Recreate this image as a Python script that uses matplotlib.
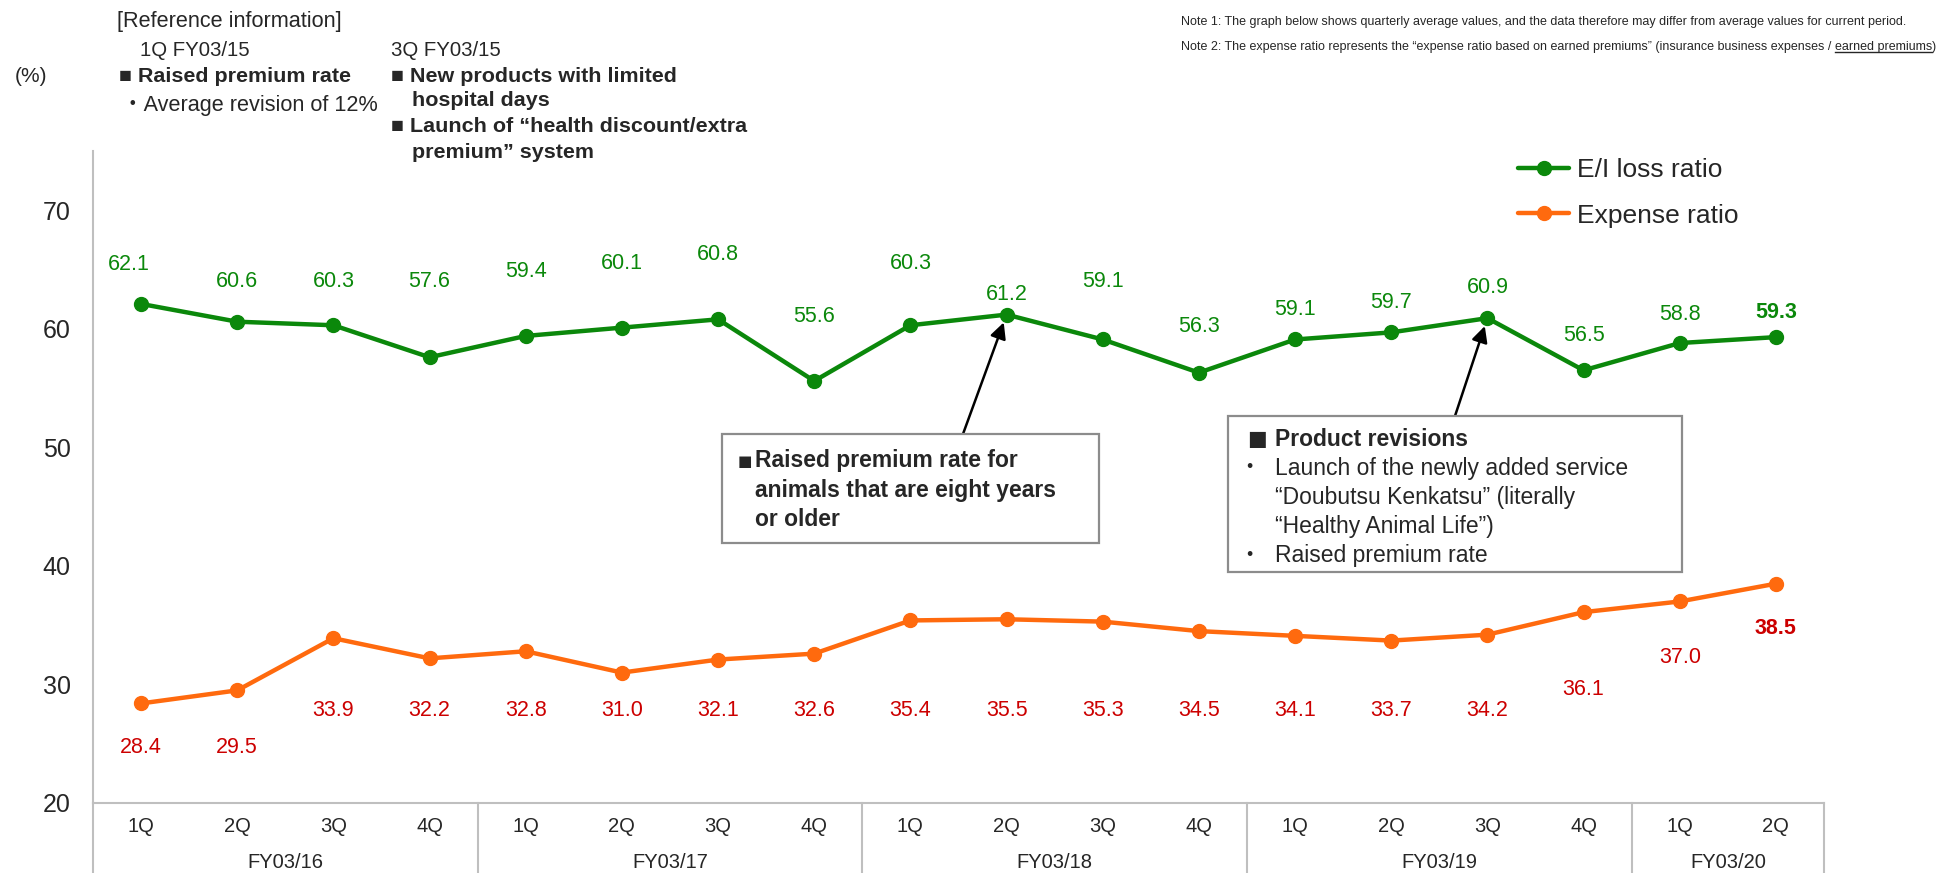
import matplotlib
matplotlib.use("Agg")
import matplotlib.pyplot as plt
from matplotlib import font_manager
from matplotlib.patches import Rectangle
from matplotlib.lines import Line2D

# ---- data ----
quarters = ["1Q", "2Q", "3Q", "4Q"] * 4 + ["1Q", "2Q"]
fiscal_years = ["FY03/16", "FY03/17", "FY03/18", "FY03/19", "FY03/20"]
year_lengths = [4, 4, 4, 4, 2]
ei_loss_ratio = [62.1, 60.6, 60.3, 57.6, 59.4, 60.1, 60.8, 55.6, 60.3,
                 61.2, 59.1, 56.3, 59.1, 59.7, 60.9, 56.5, 58.8, 59.3]
expense_ratio = [28.4, 29.5, 33.9, 32.2, 32.8, 31.0, 32.1, 32.6, 35.4,
                 35.5, 35.3, 34.5, 34.1, 33.7, 34.2, 36.1, 37.0, 38.5]
y_ticks = [20, 30, 40, 50, 60, 70]

# where the value labels sit on the slide (data units)
ei_label_y = [65.4, 64.0, 64.0, 64.0, 64.8, 65.5, 66.3, 61.0, 65.5,
              62.9, 64.0, 60.2, 61.6, 62.2, 63.5, 59.4, 61.2, 61.35]
exp_label_y = [24.7, 24.7, 27.8, 27.8, 27.8, 27.8, 27.8, 27.8, 27.8,
               27.8, 27.8, 27.8, 27.8, 27.8, 27.8, 29.6, 32.3, 34.7]

GREEN = "#0B880B"
ORANGE = "#FF6A0E"
RED = "#CC0000"
DARK = "#262626"
GRID = "#BFBFBF"

installed = {f.name for f in font_manager.fontManager.ttflist}
NARROW = "Liberation Sans Narrow" if "Liberation Sans Narrow" in installed else "Liberation Sans"
plt.rcParams["font.family"] = ["Liberation Sans", "DejaVu Sans"]

W, H = 1939, 873
fig = plt.figure(figsize=(W / 100, H / 100), dpi=100)
renderer = fig.canvas.get_renderer()


def fx(x):
    return x / W


def fy(y):
    return 1 - y / H


def width(t):
    return t.get_window_extent(renderer=renderer).width


def fit(t, target):
    t.set_fontsize(t.get_fontsize() * target / width(t))
    return t.get_fontsize()


ax = fig.add_axes([fx(93), 70 / H, (1824 - 93) / W, 652 / H])
x = list(range(len(quarters)))

ax.plot(x, ei_loss_ratio, color=GREEN, lw=3.2, marker="o", ms=10,
        solid_capstyle="round", label="E/I loss ratio", zorder=3)
ax.plot(x, expense_ratio, color=ORANGE, lw=3.2, marker="o", ms=10,
        solid_capstyle="round", label="Expense ratio", zorder=3)

ax.set_xlim(-0.5, len(quarters) - 0.5)
ax.set_ylim(20, 75)
ax.set_yticks(y_ticks)
ax.set_xticks([])
ax.tick_params(axis="y", length=0, pad=16, labelsize=18, labelcolor=DARK)
for s in ["top", "right"]:
    ax.spines[s].set_visible(False)
for s in ["left", "bottom"]:
    ax.spines[s].set_color(GRID)
    ax.spines[s].set_linewidth(1.5)

# value labels
last = len(x) - 1
for i, v in enumerate(ei_loss_ratio):
    dx = -0.13 if i == 0 else 0
    ax.text(i + dx, ei_label_y[i], f"{v:.1f}", ha="center", va="center",
            color=GREEN, fontsize=15.5, fontweight="bold" if i == last else "normal")
for i, v in enumerate(expense_ratio):
    ax.text(i, exp_label_y[i], f"{v:.1f}", ha="center", va="center",
            color=RED, fontsize=15.5, fontweight="bold" if i == last else "normal")

# category axis (quarters / fiscal years)
tr = ax.get_xaxis_transform()
for i, q in enumerate(quarters):
    ax.text(i, -24 / 652, q, transform=tr, ha="center", va="center",
            fontsize=14.5, color=DARK)
start = 0
bounds = [-0.5]
for fy_name, n in zip(fiscal_years, year_lengths):
    ax.text(start + (n - 1) / 2, -60 / 652, fy_name, transform=tr, ha="center",
            va="center", fontsize=14.5, color=DARK)
    start += n
    bounds.append(start - 0.5)
for b in bounds:
    ax.add_line(Line2D([b, b], [0, -72 / 652], transform=tr, color=GRID,
                       lw=1.5, clip_on=False))

# legend
leg = ax.legend(loc="upper left", bbox_to_anchor=(fx(1518), fy(158)),
                bbox_transform=fig.transFigure, frameon=False, fontsize=19,
                handlelength=1.95, handletextpad=0.3, labelspacing=0.82,
                borderaxespad=0, borderpad=0)
for t in leg.get_texts():
    t.set_color(DARK)

# arrows to the revision points
arrow = dict(arrowstyle="-|>", color="black", lw=1.8, mutation_scale=24,
             shrinkA=0, shrinkB=6)
ax.annotate("", xy=(9, ei_loss_ratio[9]), xytext=(fx(963), fy(434)),
            textcoords="figure fraction", arrowprops=arrow, zorder=4)
ax.annotate("", xy=(14, ei_loss_ratio[14]), xytext=(fx(1455), fy(416)),
            textcoords="figure fraction", arrowprops=arrow, zorder=4)

# call-out boxes
for (x0, y0, x1, y1) in [(722, 434, 1099, 543), (1228, 416, 1682, 572)]:
    fig.add_artist(Rectangle((fx(x0), fy(y1)), (x1 - x0) / W, (y1 - y0) / H,
                             transform=fig.transFigure, facecolor="white",
                             edgecolor="#8C8C8C", lw=1.6, zorder=2))

box1 = ["Raised premium rate for", "animals that are eight years", "or older"]
fig.text(fx(738), fy(461), "■", fontsize=11, va="center", color=DARK,
         family=["DejaVu Sans"], zorder=3)
for k, line in enumerate(box1):
    fig.text(fx(755), fy(461 + 29.5 * k), line, fontsize=16.5, fontweight="bold",
             va="center", color=DARK, zorder=3)

fig.text(fx(1247), fy(439), "■", fontsize=15, va="center", color=DARK,
         family=["DejaVu Sans"], zorder=3)
fig.text(fx(1275), fy(439), "Product revisions", fontsize=16.5,
         fontweight="bold", va="center", color=DARK, zorder=3)
box2 = [("・", "Launch of the newly added service"),
        ("", "“Doubutsu Kenkatsu” (literally"),
        ("", "“Healthy Animal Life”)"),
        ("・", "Raised premium rate")]
for k, (bul, line) in enumerate(box2):
    yy = fy(468 + 29.2 * k)
    if bul:
        fig.text(fx(1238), yy, bul, fontsize=16, va="center", color=DARK,
                 family=["Noto Sans CJK JP"], zorder=3)
    fig.text(fx(1275), yy, line, fontsize=16.5, va="center", color=DARK, zorder=3)

# reference information (top left)
fig.text(fx(15), fy(77), "(%)", fontsize=15, va="center", color=DARK, family=[NARROW])
t = fig.text(fx(117), fy(21), "[Reference information]", fontsize=15,
             va="center", color=DARK, family=[NARROW])
s_reg = fit(t, 226)
fig.text(fx(140), fy(51), "1Q FY03/15", fontsize=s_reg * 0.94, va="center",
         color=DARK, family=[NARROW])
fig.text(fx(122), fy(105), "・Average revision of 12%", fontsize=s_reg,
         va="center", color=DARK, family=[NARROW, "Noto Sans CJK JP"])
fig.text(fx(391), fy(51), "3Q FY03/15", fontsize=s_reg * 0.94, va="center",
         color=DARK, family=[NARROW])

t = fig.text(fx(391), fy(127), "■ Launch of “health discount/extra", fontsize=15,
             fontweight="bold", va="center", color=DARK, family=[NARROW, "DejaVu Sans"])
s_bold = fit(t, 355)
fig.text(fx(119), fy(77), "■ Raised premium rate", fontsize=s_bold,
         fontweight="bold", va="center", color=DARK, family=[NARROW, "DejaVu Sans"])
fig.text(fx(391), fy(76), "■ New products with limited", fontsize=s_bold,
         fontweight="bold", va="center", color=DARK, family=[NARROW, "DejaVu Sans"])
fig.text(fx(412), fy(101), "hospital days", fontsize=s_bold,
         fontweight="bold", va="center", color=DARK, family=[NARROW])
fig.text(fx(412), fy(152), "premium” system", fontsize=s_bold,
         fontweight="bold", va="center", color=DARK, family=[NARROW])

# notes (top right); the slide uses a condensed face, so keep a readable
# size and let note 2 run to the right edge like the source
NOTE_SIZE = 9 if NARROW == "Liberation Sans" else 11
note_kw = dict(fontsize=NOTE_SIZE, va="center", color=DARK, family=[NARROW])
n1 = fig.text(0, fy(22), "Note 1: The graph below shows quarterly average values, "
              "and the data therefore may differ from average values for current period.",
              **note_kw)
n2a = fig.text(0, fy(47), "Note 2: The expense ratio represents the “expense ratio "
               "based on earned premiums” (insurance business expenses / ", **note_kw)
n2b = fig.text(0, fy(47), "earned premiums", **note_kw)
n2c = fig.text(0, fy(47), ")", **note_kw)
left = 1936 - (width(n2a) + width(n2b) + width(n2c))
n1.set_x(fx(left))
n2a.set_x(fx(left))
n2b.set_x(fx(left + width(n2a)))
n2c.set_x(fx(left + width(n2a) + width(n2b)))
bb2 = n2b.get_window_extent(renderer=renderer)
fig.add_artist(Line2D([bb2.x0 / W, bb2.x1 / W], [(bb2.y0 + 1) / H] * 2,
                      transform=fig.transFigure, color=DARK, lw=1))

fig.savefig("out.png", dpi=100, facecolor="white")
